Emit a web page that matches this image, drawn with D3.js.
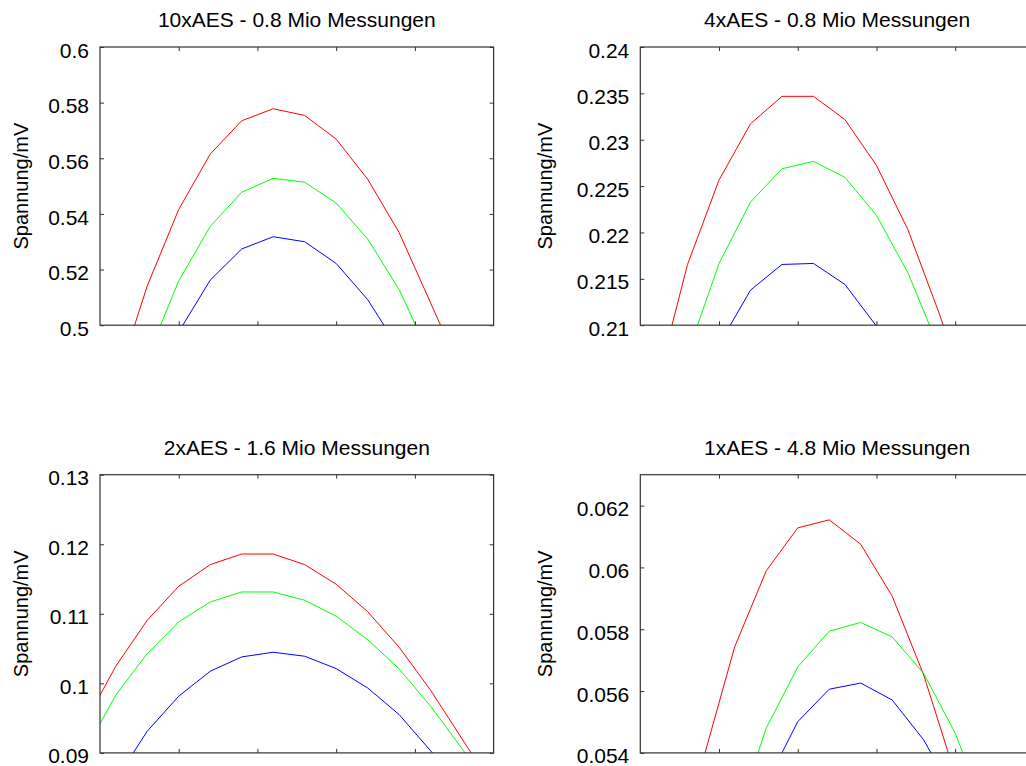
<!DOCTYPE html>
<html>
<head>
<meta charset="utf-8">
<script src="https://cdn.jsdelivr.net/npm/d3@7"></script>
<style>
  body { margin: 0; background: #fff; }
  svg { display: block; }
</style>
</head>
<body>
<script>
// panel titles
const titles = [
  '10xAES - 0.8 Mio Messungen',
  '4xAES - 0.8 Mio Messungen',
  '2xAES - 1.6 Mio Messungen',
  '1xAES - 4.8 Mio Messungen'
];
const yLabel = 'Spannung/mV';

// x positions of the samples (x axis has no labels, only ticks)
const xDomain = [0, 250];
const xTicks = [50, 100, 150, 200];
const xTopLeft = [10, 30, 50, 70, 90, 110, 130, 150, 170, 190, 210, 230];
const xTopRight = [10, 30, 50, 70, 90, 110, 130, 150, 170, 190, 210, 230];
const xBottomLeft = [-10, 10, 30, 50, 70, 90, 110, 130, 150, 170, 190, 210, 230, 250];
const xBottomRight = [40, 60, 80, 100, 120, 140, 160, 180, 200, 220];

// y ranges + tick labels
const yDomain1 = [0.5, 0.6];
const yTicks1 = ['0.5', '0.52', '0.54', '0.56', '0.58', '0.6'];
const yDomain2 = [0.21, 0.24];
const yTicks2 = ['0.21', '0.215', '0.22', '0.225', '0.23', '0.235', '0.24'];
const yDomain3 = [0.09, 0.13];
const yTicks3 = ['0.09', '0.1', '0.11', '0.12', '0.13'];
const yDomain4 = [0.054, 0.063];
const yTicks4 = ['0.054', '0.056', '0.058', '0.06', '0.062'];

// 10xAES
const red1 = [0.479, 0.5141, 0.5416, 0.5615, 0.5735, 0.5778, 0.5754, 0.5669, 0.5525, 0.5333, 0.508, 0.4826];
const green1 = [null, 0.4884, 0.5159, 0.5355, 0.5478, 0.5528, 0.5514, 0.5439, 0.531, 0.5128, 0.4884, null];
const blue1 = [null, null, 0.4976, 0.5162, 0.5274, 0.5318, 0.53, 0.5222, 0.5092, 0.4914, null, null];

// 4xAES
const red2 = [0.2033, 0.21655, 0.22565, 0.23172, 0.23468, 0.23468, 0.23216, 0.22723, 0.22029, 0.2112, 0.2013, null];
const green2 = [null, 0.2069, 0.21666, 0.22327, 0.22687, 0.22767, 0.22594, 0.22184, 0.21565, 0.2074, null, null];
const blue2 = [null, null, 0.2079, 0.21378, 0.21655, 0.21666, 0.21439, 0.2099, 0.205, null, null, null];

// 2xAES
const red3 = [0.0941, 0.10246, 0.10907, 0.11396, 0.11707, 0.1186, 0.1186, 0.11707, 0.11425, 0.11031, 0.10519, 0.09901, 0.092, 0.085];
const green3 = [0.0901, 0.0983, 0.10428, 0.10883, 0.1117, 0.11314, 0.11314, 0.11195, 0.10965, 0.10629, 0.10208, 0.09671, 0.0906, 0.084];
const blue3 = [null, 0.0861, 0.09312, 0.09815, 0.10174, 0.1038, 0.10447, 0.1039, 0.10212, 0.09934, 0.09551, 0.0903, 0.085, null];

// 1xAES
const red4 = [0.0538, 0.05744, 0.05989, 0.06128, 0.06154, 0.06075, 0.05907, 0.05652, 0.0533, null];
const green4 = [null, 0.0518, 0.0548, 0.05678, 0.05794, 0.05822, 0.05775, 0.05657, 0.05464, 0.052];
const blue4 = [null, null, 0.053, 0.05501, 0.05606, 0.05626, 0.05571, 0.05442, 0.0526, null];

const colors = ['#ff0000', '#00ff00', '#0000ff'];

const width = 1026;
const height = 766;

const svg = d3.select('body')
  .append('svg')
  .attr('width', width)
  .attr('height', height);

// layout of the four axes boxes
const plotW = 393.6;
const plotH = 278.2;
const cols = [100, 640.3];
const rows = [47, 474.7];
const labelOffset = [-72, -88];

const panels = [
  {x: xTopLeft, series: [red1, green1, blue1], domain: yDomain1, ticks: yTicks1},
  {x: xTopRight, series: [red2, green2, blue2], domain: yDomain2, ticks: yTicks2},
  {x: xBottomLeft, series: [red3, green3, blue3], domain: yDomain3, ticks: yTicks3},
  {x: xBottomRight, series: [red4, green4, blue4], domain: yDomain4, ticks: yTicks4}
];

const font = 'Liberation Sans, Arial, Helvetica, sans-serif';
const axisColor = '#333';

panels.forEach(function(p, i) {
  const col = i % 2;
  const row = Math.floor(i / 2);
  const left = cols[col];
  const top = rows[row];

  const xScale = d3.scaleLinear().domain(xDomain).range([0, plotW]);
  const yScale = d3.scaleLinear().domain(p.domain).range([plotH, 0]);

  const g = svg.append('g')
    .attr('transform', `translate(${left},${top})`);

  // clip so the curves end at the box
  const clipId = 'clip' + i;
  g.append('clipPath')
    .attr('id', clipId)
    .append('rect')
    .attr('width', plotW)
    .attr('height', plotH);

  const line = d3.line()
    .defined(d => d[1] !== null)
    .x(d => xScale(d[0]))
    .y(d => yScale(d[1]));

  g.append('g')
    .attr('clip-path', `url(#${clipId})`)
    .selectAll('path')
    .data(p.series)
    .join('path')
    .attr('d', s => line(s.map((v, k) => [p.x[k], v])))
    .attr('fill', 'none')
    .attr('stroke', (s, k) => colors[k])
    .attr('stroke-width', 1);

  const yVals = p.ticks.map(Number);

  // left axis with labels, ticks pointing inwards
  const yAxis = d3.axisLeft(yScale)
    .tickValues(yVals)
    .tickFormat((d, k) => p.ticks[k])
    .tickSizeInner(-4)
    .tickSizeOuter(0)
    .tickPadding(11);

  const ya = g.append('g').call(yAxis);
  ya.select('.domain').remove();
  ya.selectAll('line').attr('stroke', axisColor);
  ya.selectAll('text')
    .attr('dy', '0.48em')
    .attr('fill', '#000')
    .style('font-family', font)
    .style('font-size', '21px');

  // right side ticks only
  const ya2 = g.append('g')
    .attr('transform', `translate(${plotW},0)`)
    .call(d3.axisRight(yScale).tickValues(yVals).tickFormat('').tickSizeInner(-4).tickSizeOuter(0));
  ya2.select('.domain').remove();
  ya2.selectAll('line').attr('stroke', axisColor);

  // x ticks top and bottom, no labels
  const xa = g.append('g')
    .attr('transform', `translate(0,${plotH})`)
    .call(d3.axisBottom(xScale).tickValues(xTicks).tickFormat('').tickSizeInner(-4).tickSizeOuter(0));
  xa.select('.domain').remove();
  xa.selectAll('line').attr('stroke', axisColor);

  const xa2 = g.append('g')
    .call(d3.axisTop(xScale).tickValues(xTicks).tickFormat('').tickSizeInner(-4).tickSizeOuter(0));
  xa2.select('.domain').remove();
  xa2.selectAll('line').attr('stroke', axisColor);

  // box
  g.append('rect')
    .attr('width', plotW)
    .attr('height', plotH)
    .attr('fill', 'none')
    .attr('stroke', axisColor)
    .attr('stroke-width', 1.2);

  // title
  g.append('text')
    .attr('x', plotW / 2)
    .attr('y', -20)
    .attr('text-anchor', 'middle')
    .style('font-family', font)
    .style('font-size', '21px')
    .attr('fill', '#000')
    .text(titles[i]);

  // y label
  g.append('text')
    .attr('transform', `translate(${labelOffset[col]},${plotH / 2}) rotate(-90)`)
    .attr('text-anchor', 'middle')
    .style('font-family', font)
    .style('font-size', '20px')
    .attr('fill', '#000')
    .text(yLabel);
});
</script>
</body>
</html>
